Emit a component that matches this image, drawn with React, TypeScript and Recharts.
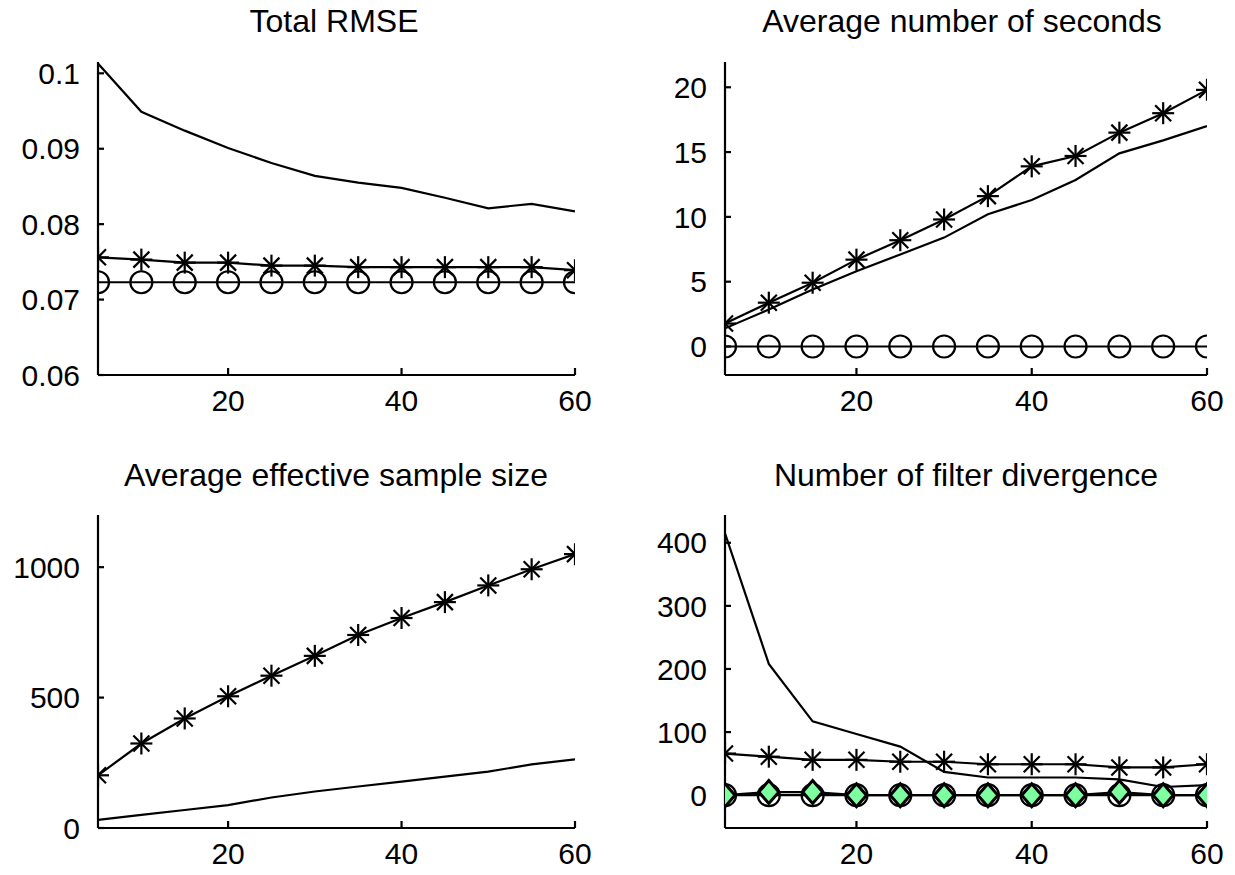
import React from "react";
import { LineChart, Line, XAxis, YAxis } from "recharts";

// particle counts on the x axis
const particles = [5, 10, 15, 20, 25, 30, 35, 40, 45, 50, 55, 60];
const xTicks = [20, 40, 60];

// Total RMSE
const rmsePlain = [0.1013, 0.0949, 0.0924, 0.0901, 0.0881, 0.0864, 0.0855, 0.0848, 0.0835, 0.0821, 0.0827, 0.0817];
const rmseStar = [0.0756, 0.0753, 0.0749, 0.0749, 0.0745, 0.0745, 0.0743, 0.0743, 0.0743, 0.0743, 0.0743, 0.0739];
const rmseCircle = [0.0723, 0.0723, 0.0723, 0.0723, 0.0723, 0.0723, 0.0723, 0.0723, 0.0723, 0.0723, 0.0723, 0.0723];
const rmseTicks = [0.06, 0.07, 0.08, 0.09, 0.1];

// Average number of seconds
const secPlain = [1.4, 2.85, 4.4, 5.8, 7.1, 8.4, 10.2, 11.3, 12.85, 14.9, 15.9, 17.0];
const secStar = [1.77, 3.38, 4.92, 6.7, 8.2, 9.8, 11.6, 13.9, 14.7, 16.5, 18.0, 19.8];
const secCircle = [0, 0, 0, 0, 0, 0, 0, 0, 0, 0, 0, 0];
const secTicks = [0, 5, 10, 15, 20];

// Average effective sample size
const essPlain = [31, 50, 69, 88, 117, 140, 159, 178, 197, 216, 244, 263];
const essStar = [202, 324, 420, 505, 584, 660, 740, 805, 866, 930, 992, 1050];
const essTicks = [0, 500, 1000];

// Number of filter divergence
const divPlain = [415, 208, 117, 97, 77, 37, 28, 28, 28, 25, 13, 16];
const divStar = [66, 61, 56, 56, 53, 53, 49, 49, 49, 44, 44, 49];
const divCircle = [0, 0, 0, 0, 0, 0, 0, 0, 0, 0, 0, 0];
const divDiamond = [0, 5, 5, 0, 0, 0, 0, 0, 0, 5, 0, 0];
const divTicks = [0, 100, 200, 300, 400];

const FONT = "'Liberation Sans', Arial, Helvetica, sans-serif";
const LW = 2.2;

const StarDot = (p: any) => {
  const { cx, cy } = p;
  if (cx == null || cy == null) return <g />;
  const r = 11;
  const d = 8;
  return (
    <g stroke="#000" strokeWidth={2.2}>
      <line x1={cx - r} y1={cy} x2={cx + r} y2={cy} />
      <line x1={cx} y1={cy - r} x2={cx} y2={cy + r} />
      <line x1={cx - d} y1={cy - d} x2={cx + d} y2={cy + d} />
      <line x1={cx - d} y1={cy + d} x2={cx + d} y2={cy - d} />
    </g>
  );
};

const CircleDot = (p: any) => {
  const { cx, cy } = p;
  if (cx == null || cy == null) return <g />;
  return <circle cx={cx} cy={cy} r={11} fill="none" stroke="#000" strokeWidth={2.2} />;
};

const DiamondDot = (p: any) => {
  const { cx, cy } = p;
  if (cx == null || cy == null) return <g />;
  const w = 10;
  const h = 11.5;
  return (
    <polygon
      points={`${cx},${cy - h} ${cx + w},${cy} ${cx},${cy + h} ${cx - w},${cy}`}
      fill="#7dffa0"
      stroke="#000"
      strokeWidth={3}
    />
  );
};

type Series = { values: number[]; marker?: "star" | "circle" | "diamond" };

function Panel({
  px,
  py,
  pw,
  ph,
  domain,
  ticks,
  series,
}: {
  px: number;
  py: number;
  pw: number;
  ph: number;
  domain: [number, number];
  ticks: number[];
  series: Series[];
}) {
  const data = particles.map((n, i) => {
    const row: any = { n };
    series.forEach((s, k) => (row["s" + k] = s.values[i]));
    return row;
  });
  const tickStyle = { fontSize: 30, fill: "#000", fontFamily: FONT };
  const axisLine = { stroke: "#000", strokeWidth: LW };
  return (
    <div style={{ position: "absolute", left: px - 100, top: py - 70 }}>
      <LineChart
        width={pw + 140}
        height={ph + 130}
        data={data}
        margin={{ top: 70, right: 40, left: 2, bottom: 0 }}
      >
        <XAxis
          dataKey="n"
          type="number"
          domain={[5, 60]}
          ticks={xTicks}
          allowDataOverflow
          height={60}
          axisLine={axisLine}
          tickLine={{ stroke: "#000", strokeWidth: LW }}
          tickSize={-7}
          tickMargin={22}
          tick={tickStyle}
          interval={0}
        />
        <YAxis
          type="number"
          domain={domain}
          ticks={ticks}
          allowDataOverflow
          width={98}
          axisLine={axisLine}
          tickLine={{ stroke: "#000", strokeWidth: LW }}
          tickSize={-6}
          tickMargin={24}
          tick={tickStyle}
          interval={0}
        />
        {series.map((s, k) => (
          <Line
            key={k}
            type="linear"
            dataKey={"s" + k}
            stroke="#000"
            strokeWidth={LW}
            isAnimationActive={false}
            dot={
              s.marker === "star"
                ? (p: any) => <StarDot key={"d" + p.index} {...p} />
                : s.marker === "circle"
                ? (p: any) => <CircleDot key={"d" + p.index} {...p} />
                : s.marker === "diamond"
                ? (p: any) => <DiamondDot key={"d" + p.index} {...p} />
                : false
            }
            activeDot={false}
          />
        ))}
      </LineChart>
    </div>
  );
}

const titleStyle = (cx: number, baseline: number): React.CSSProperties => ({
  position: "absolute",
  left: cx - 300,
  width: 600,
  top: baseline - 30,
  textAlign: "center",
  fontFamily: FONT,
  fontSize: 32,
  lineHeight: "37px",
  color: "#000",
  whiteSpace: "nowrap",
});

export default function App() {
  return (
    <div
      style={{
        position: "absolute",
        left: 0,
        top: 0,
        width: 1235,
        height: 875,
        background: "#fff",
        overflow: "hidden",
      }}
    >
      <div style={titleStyle(334, 33)}>Total RMSE</div>
      <div style={titleStyle(962, 33)}>Average number of seconds</div>
      <div style={titleStyle(336, 487)}>Average effective sample size</div>
      <div style={titleStyle(966, 487)}>Number of filter divergence</div>

      <Panel
        px={98}
        py={62}
        pw={477}
        ph={313}
        domain={[0.06, 0.1015]}
        ticks={rmseTicks}
        series={[
          { values: rmsePlain },
          { values: rmseStar, marker: "star" },
          { values: rmseCircle, marker: "circle" },
        ]}
      />
      <Panel
        px={725}
        py={62}
        pw={482}
        ph={313}
        domain={[-2.2, 21.95]}
        ticks={secTicks}
        series={[
          { values: secPlain },
          { values: secStar, marker: "star" },
          { values: secCircle, marker: "circle" },
        ]}
      />
      <Panel
        px={98}
        py={515}
        pw={477}
        ph={313}
        domain={[0, 1200]}
        ticks={essTicks}
        series={[
          { values: essPlain },
          { values: essStar, marker: "star" },
        ]}
      />
      <Panel
        px={725}
        py={515}
        pw={482}
        ph={313}
        domain={[-52, 444]}
        ticks={divTicks}
        series={[
          { values: divPlain },
          { values: divStar, marker: "star" },
          { values: divCircle, marker: "circle" },
          { values: divDiamond, marker: "diamond" },
        ]}
      />
    </div>
  );
}
